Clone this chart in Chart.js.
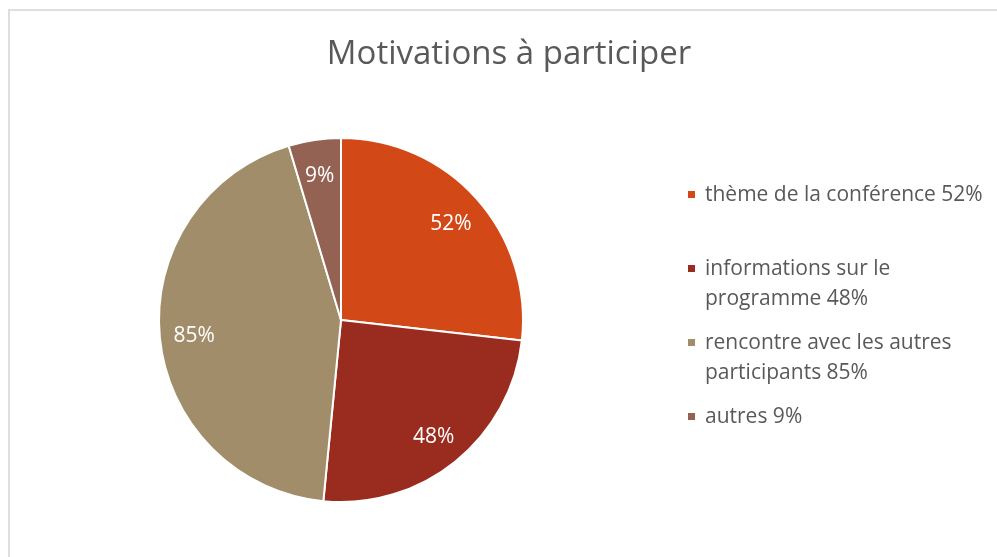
<!DOCTYPE html>
<html lang="fr">
<head>
<meta charset="utf-8">
<title>Motivations à participer</title>
<script src="https://cdn.jsdelivr.net/npm/chart.js@4.4.1/dist/chart.umd.min.js"></script>
<style>
    html, body { margin: 0; padding: 0; background: #fff; overflow: hidden; }
    #cadre {
        position: absolute; left: 8px; top: 9px;
        width: 1010px; height: 570px;
        border: 2px solid #dedede; box-sizing: border-box;
    }
    #graphique { position: absolute; left: 0; top: 0; }
</style>
</head>
<body>
<div id="cadre"></div>
<canvas id="graphique" width="997" height="557"></canvas>
<script>
// Données du graphique
const titre = 'Motivations à participer';
const categories = [
    'thème de la conférence',
    'informations sur le programme',
    'rencontre avec les autres participants',
    'autres'
];
const valeurs = [52, 48, 85, 9];
const couleurs = ['#d24917', '#9a2b1f', '#a28d6b', '#946252'];

const police = '"Open Sans", "Liberation Sans", sans-serif';
const gris = '#595959';

// Coupe un libellé en lignes selon une largeur max
function couperTexte(ctx, texte, largeurMax) {
    const mots = texte.split(' ');
    const lignes = [];
    let ligne = '';
    mots.forEach(mot => {
        const essai = ligne ? ligne + ' ' + mot : mot;
        if (ctx.measureText(essai).width > largeurMax && ligne) {
            lignes.push(ligne);
            ligne = mot;
        } else {
            ligne = essai;
        }
    });
    if (ligne) lignes.push(ligne);
    return lignes;
}

// Titre, étiquettes et légende dessinés à la main (style Excel)
const habillage = {
    id: 'habillage',
    afterDraw(chart) {
        const ctx = chart.ctx;
        const meta = chart.getDatasetMeta(0);
        ctx.save();

        // Étiquettes dans les parts
        ctx.font = '21px ' + police;
        ctx.fillStyle = '#ffffff';
        ctx.textAlign = 'center';
        ctx.textBaseline = 'middle';
        meta.data.forEach((arc, i) => {
            const p = arc.getProps(['x', 'y', 'startAngle', 'endAngle', 'outerRadius'], true);
            const milieu = (p.startAngle + p.endAngle) / 2;
            const r = p.outerRadius * 0.81;
            ctx.fillText(valeurs[i] + '%', p.x + Math.cos(milieu) * r, p.y + Math.sin(milieu) * r + 2);
        });

        // Titre
        ctx.font = '33px ' + police;
        ctx.fillStyle = gris;
        ctx.fillText(titre, 509, 55);

        // Légende
        ctx.font = '21px ' + police;
        ctx.textAlign = 'left';
        categories.forEach((cat, i) => {
            const lignes = couperTexte(ctx, cat + ' ' + valeurs[i] + '%', 285);
            const y0 = 195 + i * 74;
            ctx.fillStyle = couleurs[i];
            ctx.fillRect(688, y0 - 4, 7, 7);
            ctx.fillStyle = gris;
            lignes.forEach((l, j) => ctx.fillText(l, 705, y0 + j * 30));
        });

        ctx.restore();
    }
};

new Chart(document.getElementById('graphique'), {
    type: 'pie',
    data: {
        labels: categories,
        datasets: [{
            data: valeurs,
            backgroundColor: couleurs,
            borderColor: '#ffffff',
            borderWidth: 2
        }]
    },
    options: {
        responsive: false,
        animation: false,
        layout: {
            padding: { left: 158, right: 473, top: 137, bottom: 54 }
        },
        plugins: {
            legend: { display: false },
            title: { display: false },
            tooltip: { enabled: false }
        }
    },
    plugins: [habillage]
});
</script>
</body>
</html>
